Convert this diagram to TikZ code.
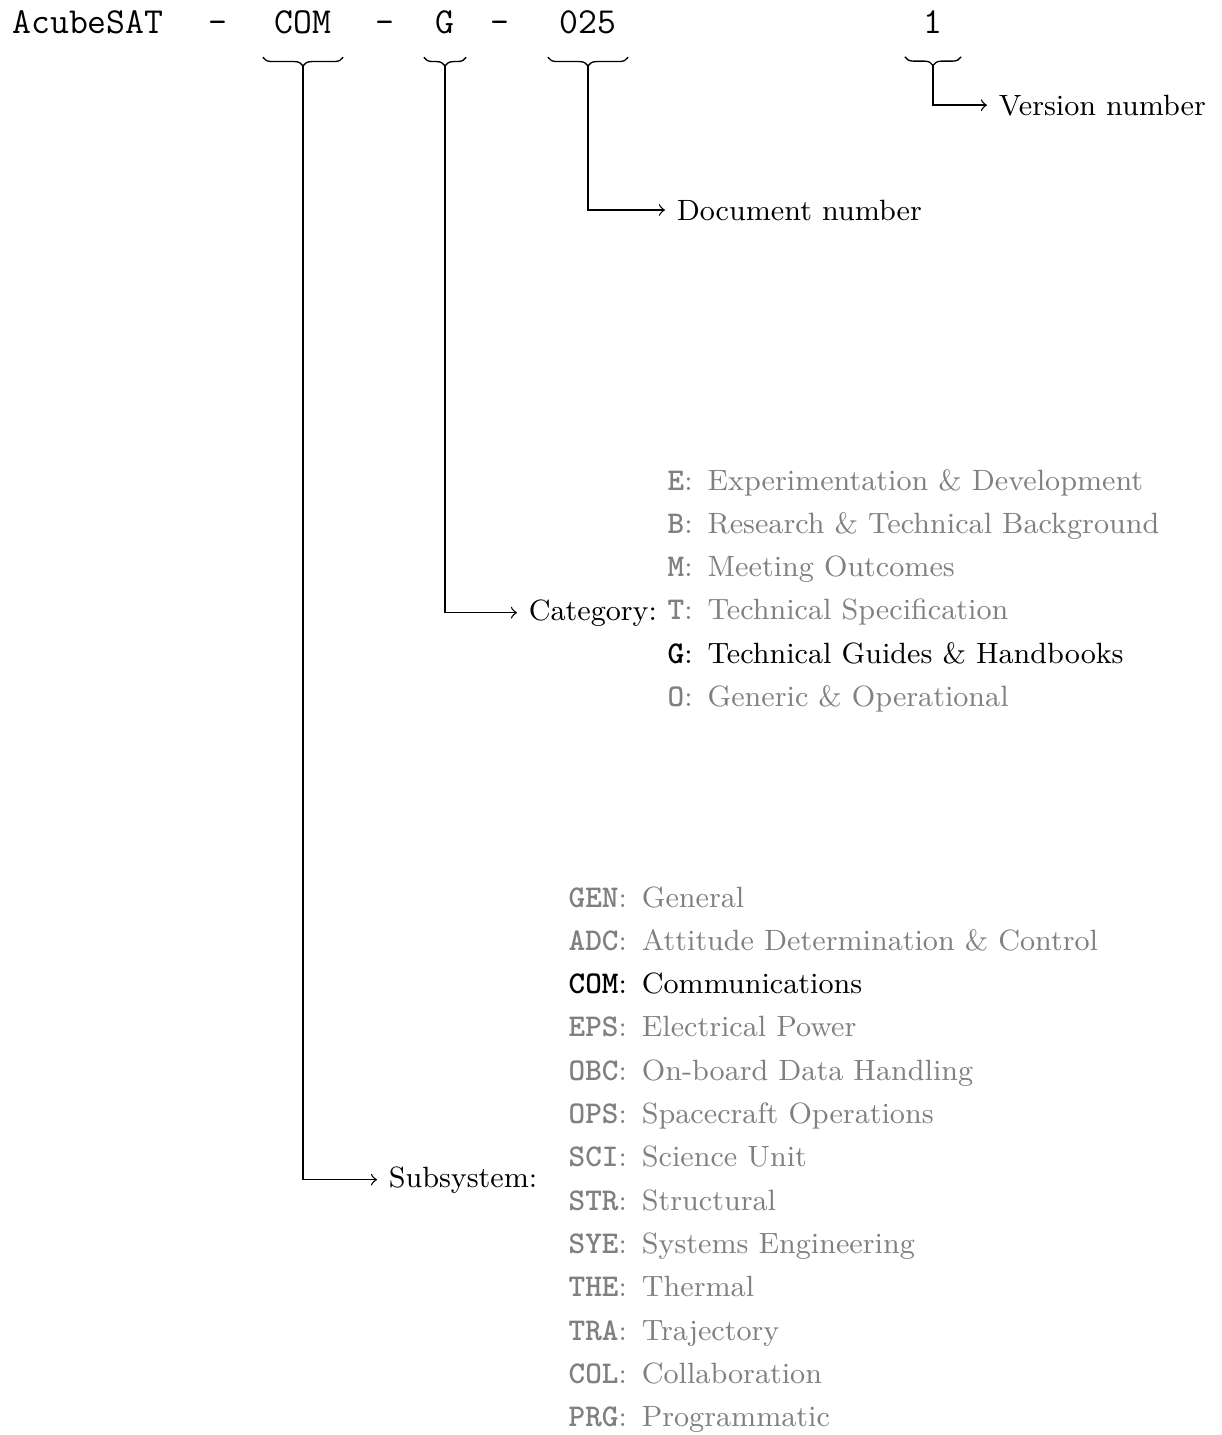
\documentclass[tikz,border=0pt]{standalone}
\usetikzlibrary{decorations.pathreplacing, positioning, calc}
\definecolor{dimtext}{RGB}{128,128,128}
\tikzset{
    idpart/.style={font=\fontsize{11}{13}\selectfont\ttfamily, anchor=base},
    fieldname/.style={font=\fontsize{8.8}{10.5}\selectfont, anchor=base west},
    listitem/.style={font=\fontsize{8.8}{10.5}\selectfont, anchor=base west, inner sep=0pt},
    underbrace/.style={decorate, decoration={brace, mirror, amplitude=2.6pt}},
    pointer/.style={->}
}
\newcommand{\idcode}[1]{{\fontsize{9.5}{11}\selectfont\ttfamily\bfseries #1}}

\begin{document}
\begin{tikzpicture}[x=0.3pt, y=-0.3pt]
    \useasboundingbox (0,0) rectangle (1221,1435);

    % document identifier
    \node[idpart] (mission) at (88,33) {AcubeSAT};
    \node[idpart] (sepa) at (218,33) {-};
    \node[idpart] (subsys) at (303,33) {COM};
    \node[idpart] (sepb) at (385,33) {-};
    \node[idpart] (categ) at (445,33) {G};
    \node[idpart] (sepc) at (500,33) {-};
    \node[idpart] (docnum) at (588,33) {025};
    \node[idpart, minimum width=16.5pt] (version) at (933,33) {1};

    % braces under the fields
    \draw[underbrace] ([yshift=-3.6pt]subsys.south west) -- ([yshift=-3.6pt]subsys.south east);
    \draw[underbrace] ([yshift=-3.6pt]categ.south west) -- ([yshift=-3.6pt]categ.south east);
    \draw[underbrace] ([yshift=-3.6pt]docnum.south west) -- ([yshift=-3.6pt]docnum.south east);
    \draw[underbrace] ([yshift=-3.6pt]version.south west) -- ([yshift=-3.6pt]version.south east);

    % field names
    \node[fieldname] (verlabel) at (987,115) {Version number};
    \node[fieldname] (doclabel) at (665,220) {Document number};
    \node[fieldname] (catlabel) at (517,620) {Category:};
    \node[fieldname] (subslabel) at (377,1187) {Subsystem:};

    % categories
    \foreach \cid/\cdesc/\ccol [count=\i from 0] in {
        E/Experimentation \& Development/dimtext,
        B/Research \& Technical Background/dimtext,
        M/Meeting Outcomes/dimtext,
        T/Technical Specification/dimtext,
        G/Technical Guides \& Handbooks/black,
        O/Generic \& Operational/dimtext}
        \node[listitem, text=\ccol] (cat\i) at (667, 490+43.3*\i) {\idcode{\cid}:\, \cdesc};

    % subsystems
    \foreach \cid/\cdesc/\ccol [count=\i from 0] in {
        GEN/General/dimtext,
        ADC/Attitude Determination \& Control/dimtext,
        COM/Communications/black,
        EPS/Electrical Power/dimtext,
        OBC/On-board Data Handling/dimtext,
        OPS/Spacecraft Operations/dimtext,
        SCI/Science Unit/dimtext,
        STR/Structural/dimtext,
        SYE/Systems Engineering/dimtext,
        THE/Thermal/dimtext,
        TRA/Trajectory/dimtext,
        COL/Collaboration/dimtext,
        PRG/Programmatic/dimtext}
        \node[listitem, text=\ccol] (sub\i) at (568, 907+43.3*\i) {\idcode{\cid}:\, \cdesc};

    % pointers
    \draw[pointer] ([yshift=-6.2pt]version.south) |- (verlabel.west);
    \draw[pointer] ([yshift=-6.2pt]docnum.south) |- (doclabel.west);
    \draw[pointer] ([yshift=-6.2pt]categ.south) |- (catlabel.west);
    \draw[pointer] ([yshift=-6.2pt]subsys.south) |- (subslabel.west);

\end{tikzpicture}
\end{document}
